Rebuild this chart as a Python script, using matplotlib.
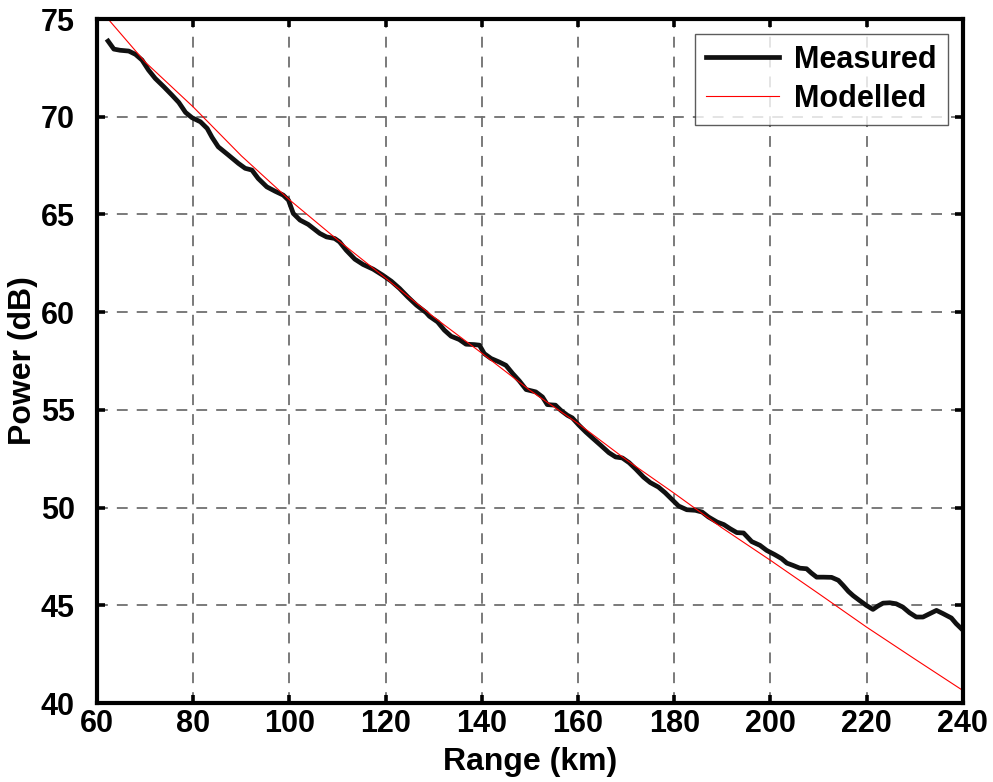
import matplotlib
matplotlib.use("Agg")
import matplotlib.pyplot as plt

plt.rcParams['font.family'] = ['Liberation Sans', 'DejaVu Sans']
plt.rcParams['font.weight'] = 'bold'

# measured power profile (km, dB)
measured_range = [62.3, 63.5, 64.8, 66.6, 68.0, 69.35, 70.7, 72.1, 73.9, 75.6, 77.0, 78.4,
                  79.75, 81.5, 82.9, 83.9, 85.2, 87.3, 89.4, 90.8, 92.2, 93.5, 95.3, 97.0,
                  98.7, 99.8, 100.8, 102.2, 103.9, 106.3, 107.7, 109.4, 110.4, 111.8, 113.6,
                  115.3, 117.4, 119.4, 121.2, 122.9, 124.6, 126.4, 128.4, 129.1, 130.8, 132.2,
                  133.6, 135.3, 136.7, 138.4, 139.5, 140.5, 141.9, 143.6, 145.0, 146.4, 147.8,
                  149.2, 151.2, 152.6, 153.6, 155.3, 156.4, 157.8, 158.8, 160.2, 161.6, 163.0,
                  164.7, 166.4, 167.8, 169.2, 170.6, 172.0, 173.6, 175.0, 176.7, 178.1, 179.5,
                  180.9, 182.6, 184.4, 185.8, 187.1, 188.9, 190.3, 191.6, 193.0, 194.4, 196.1,
                  197.8, 199.2, 200.9, 202.3, 203.4, 204.7, 206.1, 207.5, 208.5, 209.6, 211.0,
                  212.7, 214.1, 215.1, 216.2, 217.2, 218.5, 219.9, 221.3, 222.3, 223.4, 224.8,
                  226.1, 227.5, 228.9, 230.3, 231.7, 233.1, 234.5, 235.9, 237.6, 238.6, 239.9]
measured_power = [73.87, 73.46, 73.4, 73.36, 73.19, 72.9, 72.39, 71.96, 71.53, 71.1, 70.73, 70.22,
                  69.95, 69.74, 69.4, 68.95, 68.46, 68.04, 67.61, 67.36, 67.27, 66.84, 66.41, 66.19,
                  65.99, 65.73, 65.05, 64.71, 64.49, 64.03, 63.85, 63.77, 63.6, 63.17, 62.71,
                  62.44, 62.2, 61.89, 61.58, 61.21, 60.78, 60.36, 59.98, 59.79, 59.5, 59.08,
                  58.77, 58.6, 58.36, 58.34, 58.31, 57.88, 57.63, 57.45, 57.28, 56.86, 56.48,
                  56.04, 55.92, 55.66, 55.27, 55.24, 54.98, 54.72, 54.59, 54.21, 53.87, 53.56,
                  53.19, 52.81, 52.59, 52.54, 52.3, 51.97, 51.56, 51.28, 51.05, 50.76, 50.42,
                  50.08, 49.89, 49.86, 49.77, 49.52, 49.26, 49.13, 48.92, 48.72, 48.7, 48.26,
                  48.07, 47.81, 47.59, 47.39, 47.16, 47.04, 46.9, 46.87, 46.65, 46.44, 46.44,
                  46.43, 46.28, 46.02, 45.71, 45.49, 45.25, 45.0, 44.79, 44.96, 45.11, 45.13,
                  45.08, 44.91, 44.62, 44.4, 44.4, 44.57, 44.74, 44.57, 44.35, 44.06, 43.75]

# model prediction (km, dB)
model_range = [62.3, 70, 80, 90, 100, 110, 120, 130, 140, 150, 160, 170, 180, 190, 200,
               210, 220, 230, 240]
model_power = [75.0, 72.8, 70.5, 68.0, 65.75, 63.7, 61.74, 59.75, 57.9, 56.0, 54.3, 52.45,
               50.73, 48.95, 47.3, 45.6, 43.88, 42.25, 40.64]

fig = plt.figure(figsize=(9.93, 7.82), dpi=100)
ax = fig.add_axes([0.0977, 0.101, 0.872, 0.8747])

ax.plot(measured_range, measured_power, color='#111111', linewidth=3.4, label='Measured')
ax.plot(model_range, model_power, color='red', linewidth=0.8, label='Modelled')

ax.set_xlim(60, 240)
ax.set_ylim(40, 75)
ax.set_xticks(range(60, 241, 20))
ax.set_yticks(range(40, 76, 5))
ax.grid(True, linestyle=(0, (6, 5)), color='#707070', linewidth=1.3)
ax.set_axisbelow(True)

ax.tick_params(direction='in', length=6, width=2.6, labelsize=22, top=True, right=True)
ax.tick_params(axis='x', pad=4)
ax.tick_params(axis='y', pad=16)
for sp in ax.spines.values():
    sp.set_linewidth(3.0)

ax.set_xlabel('Range (km)', fontsize=23, fontweight='bold', labelpad=6)
ax.set_ylabel('Power (dB)', fontsize=23, fontweight='bold', labelpad=2)

leg = ax.legend(loc='upper right', frameon=True, fancybox=False,
                edgecolor='#333333', handlelength=2.4, borderaxespad=0.5,
                handletextpad=0.5, borderpad=0.35, labelspacing=0.3,
                prop={'weight': 'bold', 'size': 22})
leg.get_frame().set_linewidth(1.0)

fig.savefig('out.png', dpi=100)
